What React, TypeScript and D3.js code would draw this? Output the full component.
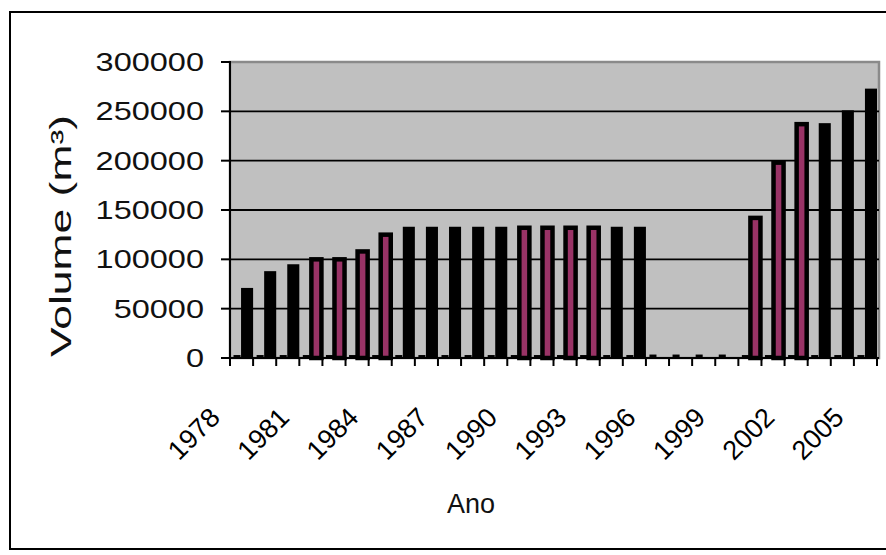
import React from "react";
import * as d3 from "d3";

const years: number[] = [
  1978, 1979, 1980, 1981, 1982, 1983, 1984, 1985, 1986, 1987,
  1988, 1989, 1990, 1991, 1992, 1993, 1994, 1995, 1996, 1997,
  1998, 1999, 2000, 2001, 2002, 2003, 2004, 2005,
];

// Volume (m³) per year
const volume: number[] = [
  70000, 87000, 94000, 100000, 100000, 108000, 125000, 132000, 132000, 132000,
  132000, 132000, 132000, 132000, 132000, 132000, 132000, 132000, 0, 0,
  0, 0, 142000, 198000, 237000, 237000, 250000, 272000,
];

// Companion series drawn as the short bars beside each column
const baseSeries: number[] = [
  3000, 3000, 3000, 3000, 3000, 3000, 3000, 3000, 3000, 3000,
  3000, 3000, 3000, 3000, 3000, 3000, 3000, 3000, 3500, 3500,
  3500, 3500, 3000, 3000, 3000, 3000, 3000, 3000,
];

// Years whose column is filled in plum
const highlighted: number[] = [1981, 1982, 1983, 1984, 1990, 1991, 1992, 1993, 2000, 2001, 2002];

const yTicks: number[] = [0, 50000, 100000, 150000, 200000, 250000, 300000];
const labelYears: number[] = [1978, 1981, 1984, 1987, 1990, 1993, 1996, 1999, 2002, 2005];

const W = 886;
const H = 555;
const plot = { left: 230, right: 877, top: 62, bottom: 358 };
const FONT = "'Liberation Sans', Arial, sans-serif";

export default function App() {
  const x = d3.scaleBand<number>().domain(years).range([plot.left, plot.right]).padding(0);
  const sub = d3.scaleBand<string>().domain(["base", "main"]).range([2, x.bandwidth() - 1]).padding(0);
  const y = d3.scaleLinear().domain([0, 300000]).range([plot.bottom, plot.top]);

  const tickXs = years.map((yr) => x(yr)!).concat([plot.right]);

  return (
    <svg
      width={W}
      height={H}
      style={{ position: "absolute", left: 0, top: 0, background: "#fff" }}
      fontFamily={FONT}
    >
      {/* chart frame */}
      <rect x={10} y={12} width={900} height={537} fill="#fff" stroke="#000" strokeWidth={2} />

      {/* plot area */}
      <rect
        x={plot.left}
        y={y(300000)}
        width={plot.right + 2 - plot.left}
        height={plot.bottom - y(300000)}
        fill="#c0c0c0"
        stroke="#8a8a8a"
        strokeWidth={2.5}
      />

      {/* gridlines */}
      {yTicks
        .filter((t) => t > 0 && t < 300000)
        .map((t) => (
          <line key={t} x1={plot.left} x2={plot.right + 2} y1={y(t)} y2={y(t)} stroke="#000" strokeWidth={1.8} />
        ))}

      {/* short companion bars */}
      {years.map((yr, i) => {
        const bw = sub.bandwidth() * 0.7;
        const bx = x(yr)! + sub("base")! + (sub.bandwidth() - bw) / 2;
        return (
          <rect
            key={"b" + yr}
            x={bx}
            y={y(baseSeries[i])}
            width={bw}
            height={y(0) - y(baseSeries[i])}
            fill="#000"
          />
        );
      })}

      {/* volume columns */}
      {years.map((yr, i) => {
        if (volume[i] <= 0) return null;
        const hl = highlighted.includes(yr);
        const bx = x(yr)! + sub("main")!;
        return (
          <rect
            key={"v" + yr}
            x={bx}
            y={y(volume[i])}
            width={sub.bandwidth()}
            height={y(0) - y(volume[i])}
            fill={hl ? "#993366" : "#000"}
            stroke="#000"
            strokeWidth={hl ? 4.5 : 2}
          />
        );
      })}

      {/* y axis */}
      <line x1={plot.left} x2={plot.left} y1={y(300000) - 1} y2={plot.bottom} stroke="#000" strokeWidth={2} />
      {yTicks.map((t) => (
        <g key={"yt" + t}>
          <line x1={plot.left - 9} x2={plot.left} y1={y(t)} y2={y(t)} stroke="#000" strokeWidth={2} />
          <text
            transform={`translate(${plot.left - 26},${y(t)}) scale(1.3,1)`}
            textAnchor="end"
            dy="0.36em"
            fontSize={25}
            fill="#111"
          >
            {t}
          </text>
        </g>
      ))}

      {/* x axis */}
      <line x1={plot.left} x2={plot.right + 2} y1={plot.bottom} y2={plot.bottom} stroke="#000" strokeWidth={2} />
      {tickXs.map((tx, i) => (
        <line key={"xt" + i} x1={tx} x2={tx} y1={plot.bottom} y2={plot.bottom + 8} stroke="#000" strokeWidth={2} />
      ))}
      {labelYears.map((yr) => {
        const cx = x(yr)! + x.bandwidth() / 2 - 20;
        return (
          <text
            key={"xl" + yr}
            transform={`translate(${cx},${419}) rotate(-45)`}
            textAnchor="end"
            fontSize={27}
            fill="#000"
          >
            {yr}
          </text>
        );
      })}

      {/* axis titles */}
      <text
        transform={`translate(${71},${236}) rotate(-90) scale(1,1.15)`}
        textAnchor="middle"
        fontSize={25}
        textLength={242}
        lengthAdjust="spacingAndGlyphs"
        fill="#111"
      >
        Volume (m³)
      </text>
      <text x={471} y={513} textAnchor="middle" fontSize={27} fill="#111">
        Ano
      </text>
    </svg>
  );
}
